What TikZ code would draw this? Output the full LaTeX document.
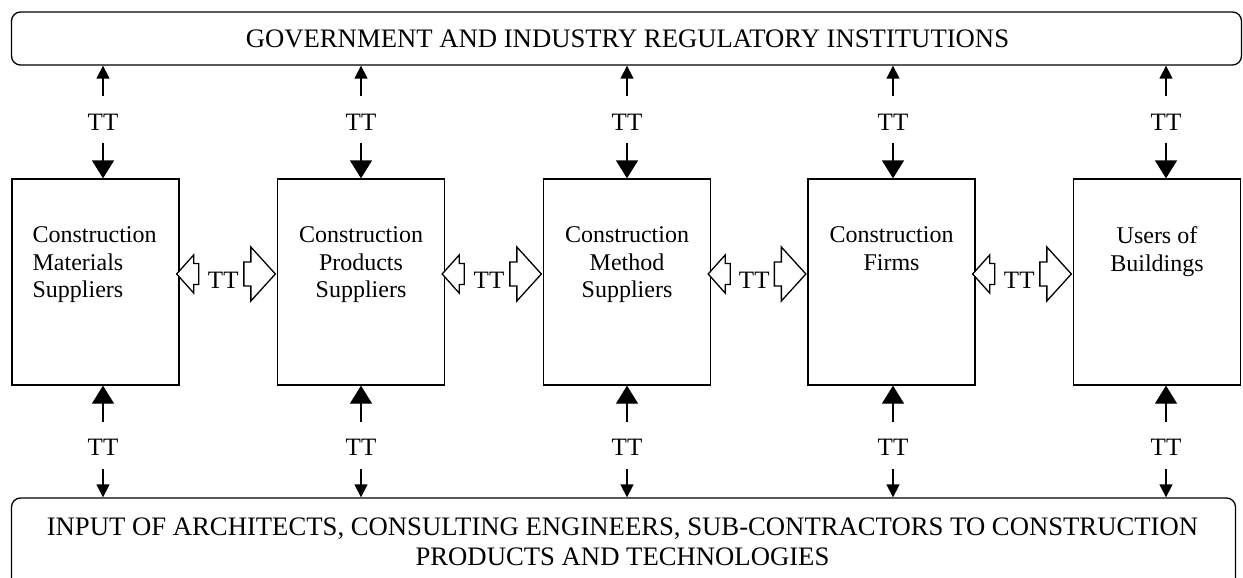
\documentclass[tikz,border=0pt]{standalone}
\usepackage{fontspec}
\setmainfont{Liberation Serif}
\usetikzlibrary{arrows.meta,calc}
\begin{document}
\begin{tikzpicture}[x=1pt,y=-1pt, line width=1.3pt,
  txt/.style={font=\fontsize{24}{27.5}\selectfont, inner sep=0pt},
  ttxt/.style={font=\fontsize{25}{30}\selectfont, inner sep=0pt},
  bandtxt/.style={font=\fontsize{26.7}{30}\selectfont, inner sep=0pt},
  stage/.style={draw, minimum width=167pt, minimum height=206pt, inner sep=0pt},
  band/.style={draw, rounded corners=9pt, inner sep=0pt},
  smallhead/.style={-{Triangle[width=13pt,length=13pt]}},
  bighead/.style={-{Triangle[width=22pt,length=18pt]}},
  blockarrow/.style={draw, line width=1.3pt, fill=white, line join=miter}
]
\useasboundingbox (0,0) rectangle (1243,578);
\clip (0,0) rectangle (1243,578);

% bands
\node[band, minimum width=1230pt, minimum height=53pt] (gov) at (626.5,38.5) {};
\node[bandtxt, anchor=base] (govtxt) at (627.5,48) {GOVERNMENT AND INDUSTRY REGULATORY INSTITUTIONS};
\node[band, minimum width=1224pt, minimum height=100pt] (inp) at (623.5,548) {};
\node[bandtxt, anchor=north, align=center] (inptxt) at (622.5,517.3) {INPUT OF ARCHITECTS, CONSULTING ENGINEERS, SUB-CONTRACTORS TO CONSTRUCTION\\PRODUCTS AND TECHNOLOGIES};

% stages
\node[stage] (b1) at (95.5,282) {};
\node[stage] (b2) at (361,282) {};
\node[stage] (b3) at (627,282) {};
\node[stage] (b4) at (891.5,282) {};
\node[stage] (b5) at (1157,282) {};

\node[txt, anchor=north west, align=left] (t1) at (32,226) {Construction\\Materials\\Suppliers};
\node[txt, anchor=north, align=center] (t2) at (361,226) {Construction\\Products\\Suppliers};
\node[txt, anchor=north, align=center] (t3) at (627,226) {Construction\\Method\\Suppliers};
\node[txt, anchor=north, align=center] (t4) at (891.5,226) {Construction\\Firms};
\node[txt, anchor=north, align=center] (t5) at (1157,226) {Users of\\Buildings};

% vertical TT links
\foreach \i/\x in {1/103,2/361,3/627,4/893,5/1166} {
  \node[ttxt] (gt\i) at (\x,122) {TT};
  \draw[smallhead, shorten <=17pt] (gt\i.north) -- (gt\i.north |- gov.south);
  \draw[bighead, shorten <=12pt] (gt\i.south) -- (gt\i.south |- b\i.north);
  \node[ttxt] (it\i) at (\x,447) {TT};
  \draw[bighead, shorten <=16pt] (it\i.north) -- (it\i.north |- b\i.south);
  \draw[smallhead, shorten <=13pt] (it\i.south) -- (it\i.south |- inp.north);
}

% horizontal TT links
\foreach \a/\b/\k in {b1/b2/1,b2/b3/2,b3/b4/3,b4/b5/4} {
  \draw[blockarrow, shift={($(\a.east)+(0,-8)$)}] (-3,0) -- (14,-19) -- (14,-10.5) -- (19,-10.5) -- (19,10.5) -- (14,10.5) -- (14,19) -- cycle;
  \draw[blockarrow, shift={($(\b.west)+(0,-8)$)}] (-1.5,0) -- (-26,-27) -- (-26,-12) -- (-33,-12) -- (-33,12) -- (-26,12) -- (-26,27) -- cycle;
  \node[ttxt] (ht\k) at ($(\a.east)!0.5!(\b.west)+(-5,-2)$) {TT};
}
\end{tikzpicture}
\end{document}
